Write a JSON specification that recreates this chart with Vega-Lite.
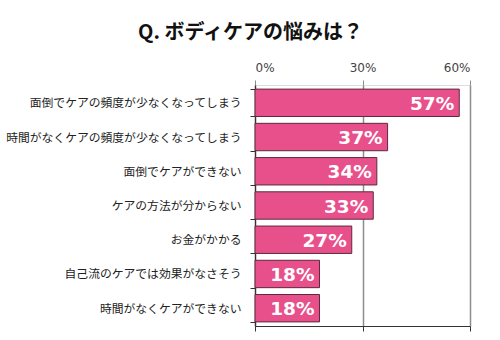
{
  "$schema": "https://vega.github.io/schema/vega-lite/v6.json",
  "width": 215,
  "height": 241,
  "autosize": "none",
  "padding": {"left": 255, "top": 85, "right": 30, "bottom": 14},
  "background": "white",
  "title": {
    "text": "Q. ボディケアの悩みは？",
    "font": "Noto Sans CJK JP",
    "fontSize": 20,
    "fontWeight": "bold",
    "color": "#111111",
    "anchor": "middle",
    "frame": "group",
    "dx": -112,
    "offset": 18
  },
  "data": {
    "values": [
      {"item": "面倒でケアの頻度が少なくなってしまう", "value": 0.57},
      {"item": "時間がなくケアの頻度が少なくなってしまう", "value": 0.37},
      {"item": "面倒でケアができない", "value": 0.34},
      {"item": "ケアの方法が分からない", "value": 0.33},
      {"item": "お金がかかる", "value": 0.27},
      {"item": "自己流のケアでは効果がなさそう", "value": 0.18},
      {"item": "時間がなくケアができない", "value": 0.18}
    ]
  },
  "encoding": {
    "y": {
      "field": "item",
      "type": "nominal",
      "sort": null,
      "title": null,
      "scale": {"paddingInner": 0.2, "paddingOuter": 0.12},
      "axis": {
        "domainColor": "#333333",
        "domainWidth": 1.2,
        "tickColor": "#333333",
        "tickBand": "extent",
        "tickSize": 5,
        "labelFont": "Noto Sans CJK JP",
        "labelFontSize": 11.8,
        "labelColor": "#222222",
        "labelPadding": 9,
        "labelLimit": 260
      }
    }
  },
  "resolve": {"axis": {"x": "independent"}},
  "layer": [
    {
      "mark": {"type": "bar", "fill": "#E8508B", "stroke": "#5e2a3c", "strokeWidth": 1},
      "encoding": {
        "x": {
          "field": "value",
          "type": "quantitative",
          "scale": {"domain": [0, 0.6]},
          "title": null,
          "axis": {
            "orient": "top",
            "values": [0, 0.3, 0.6],
            "format": ".0%",
            "grid": true,
            "gridColor": "#8c8c8c",
            "gridWidth": 1.5,
            "domain": false,
            "ticks": true,
            "tickColor": "#8c8c8c",
            "tickSize": 5,
            "labelFont": "DejaVu Sans",
            "labelFontSize": 12,
            "labelColor": "#444444",
            "labelPadding": 6
          }
        }
      }
    },
    {
      "mark": {"type": "text", "align": "right", "baseline": "middle", "dx": -5, "dy": 1, "font": "DejaVu Sans", "fontSize": 18.5, "fontWeight": "bold", "color": "white"},
      "encoding": {
        "x": {
          "field": "value",
          "type": "quantitative",
          "title": null,
          "axis": {
            "orient": "bottom",
            "values": [0, 0.3, 0.6],
            "labels": false,
            "grid": false,
            "domain": true,
            "domainColor": "#333333",
            "domainWidth": 1.2,
            "ticks": true,
            "tickColor": "#333333",
            "tickSize": 5
          }
        },
        "text": {"field": "value", "type": "quantitative", "format": ".0%"}
      }
    }
  ]
}
